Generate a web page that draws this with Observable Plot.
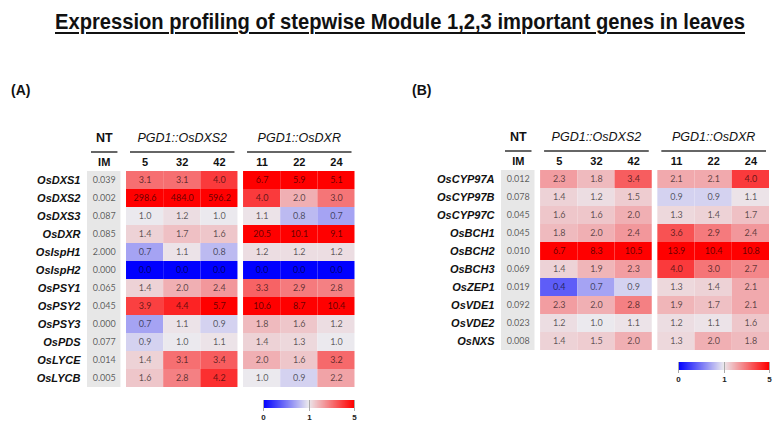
<!DOCTYPE html>
<html>
<head>
<meta charset="utf-8">
<script src="https://cdn.jsdelivr.net/npm/d3@7"></script>
<script src="https://cdn.jsdelivr.net/npm/@observablehq/plot@0.6"></script>
<style>
  body { margin: 0; background: #fff; }
  #wrap { position: relative; width: 775px; height: 427px; overflow: hidden; font-family: "Liberation Sans", Arial, sans-serif; }
  #title { position: absolute; left: 55px; top: 9px; display: inline-block; transform-origin: 0 0;
           font-family: "Liberation Sans Narrow", "Arial Narrow", "Liberation Sans", sans-serif;
           font-weight: bold; font-size: 22px; color: #111; text-decoration: underline; text-decoration-thickness: 2px; text-underline-offset: 3px; white-space: nowrap; }
  .tag { position: absolute; font-weight: bold; font-size: 14px; color: #111; }
  .panel { position: absolute; top: 70px; }
  .leg { position: absolute; }
  .leg line { stroke: #aaa; }
</style>
</head>
<body>
<div id="wrap">
  <span id="title">Expression profiling of stepwise Module 1,2,3 important genes in leaves</span>
  <div class="tag" style="left:11px;top:82px;">(A)</div>
  <div class="tag" style="left:412px;top:82px;">(B)</div>
  <div class="panel" id="panelA" style="left:0px;"></div>
  <div class="panel" id="panelB" style="left:390px;"></div>
</div>
<script>
// ---------- data ----------
const groupLabels = ["NT", "PGD1::OsDXS2", "PGD1::OsDXR"];
const colLabels = [["IM"], ["5", "32", "42"], ["11", "22", "24"]];

// Panel A
const genesA = ["OsDXS1", "OsDXS2", "OsDXS3", "OsDXR", "OsIspH1", "OsIspH2", "OsPSY1", "OsPSY2", "OsPSY3", "OsPDS", "OsLYCE", "OsLYCB"];
const imA = [0.039, 0.002, 0.087, 0.085, 2.000, 0.000, 0.065, 0.045, 0.000, 0.077, 0.014, 0.005];
const dxs2A = [
  [3.1, 3.1, 4.0], [298.6, 484.0, 596.2], [1.0, 1.2, 1.0], [1.4, 1.7, 1.6],
  [0.7, 1.1, 0.8], [0.0, 0.0, 0.0], [1.4, 2.0, 2.4], [3.9, 4.4, 5.7],
  [0.7, 1.1, 0.9], [0.9, 1.0, 1.1], [1.4, 3.1, 3.4], [1.6, 2.8, 4.2]
];
const dxrA = [
  [6.7, 5.9, 5.1], [4.0, 2.0, 3.0], [1.1, 0.8, 0.7], [20.5, 10.1, 9.1],
  [1.2, 1.2, 1.2], [0.0, 0.0, 0.0], [3.3, 2.9, 2.8], [10.6, 8.7, 10.4],
  [1.8, 1.6, 1.2], [1.4, 1.3, 1.0], [2.0, 1.6, 3.2], [1.0, 0.9, 2.2]
];

// Panel B
const genesB = ["OsCYP97A", "OsCYP97B", "OsCYP97C", "OsBCH1", "OsBCH2", "OsBCH3", "OsZEP1", "OsVDE1", "OsVDE2", "OsNXS"];
const imB = [0.012, 0.078, 0.045, 0.045, 0.010, 0.069, 0.019, 0.092, 0.023, 0.008];
const dxs2B = [
  [2.3, 1.8, 3.4], [1.4, 1.2, 1.5], [1.6, 1.6, 2.0], [1.8, 2.0, 2.4], [6.7, 8.3, 10.5],
  [1.4, 1.9, 2.3], [0.4, 0.7, 0.9], [2.3, 2.0, 2.8], [1.2, 1.0, 1.1], [1.4, 1.5, 2.0]
];
const dxrB = [
  [2.1, 2.1, 4.0], [0.9, 0.9, 1.1], [1.3, 1.4, 1.7], [3.6, 2.9, 2.4], [13.9, 10.4, 10.8],
  [4.0, 3.0, 2.7], [1.3, 1.4, 2.1], [1.9, 1.7, 2.1], [1.2, 1.1, 1.6], [1.3, 2.0, 1.8]
];

// color scale stops
const colorDomain = [0, 1, 5];
const colorRange = ["#0000ff", "#ebe9ee", "#ff0000"];

// ---------- title fit (condensed look) ----------
(function fitTitle() {
  const t = document.getElementById("title");
  const w = t.getBoundingClientRect().width;
  const target = 690;
  if (w > 0) t.style.transform = `scaleX(${target / w})`;
})();

// ---------- layout helpers ----------
function layoutColumns() {
  const cols = [], groups = [];
  let pos = 0;
  colLabels.forEach((labels, g) => {
    const w = g === 0 ? 0.9 : 1;
    const start = pos;
    labels.forEach((label, k) => { cols.push({g, k, label, x1: pos, x2: pos + w}); pos += w; });
    groups.push({g, label: groupLabels[g], x1: start, x2: pos});
    pos += 0.15;
  });
  return {cols, groups, end: pos - 0.15};
}

function makePanel({genes, im, dxs2, dxr, width, height, marginLeft, marginRight, marginBottom}) {
  const {cols, groups, end} = layoutColumns();
  const imCells = genes.map((gene, i) => ({gene, value: im[i], x1: cols[0].x1, x2: cols[0].x2}));
  const valCells = [];
  genes.forEach((gene, i) => {
    [dxs2[i], dxr[i]].forEach((vals, gi) => {
      vals.forEach((v, k) => {
        const c = cols.find(c => c.g === gi + 1 && c.k === k);
        valCells.push({gene, value: v, x1: c.x1, x2: c.x2});
      });
    });
  });
  const mid = d => (d.x1 + d.x2) / 2;
  const numFont = "Lato, 'Open Sans', sans-serif";
  return Plot.plot({
    width, height,
    marginLeft, marginRight, marginTop: 60.8, marginBottom,
    style: {fontFamily: "'Liberation Sans', Arial, sans-serif", background: "transparent", color: "#111"},
    x: {type: "linear", domain: [0, end], axis: null},
    y: {type: "band", domain: ["h1", "h2", ...genes], padding: 0, axis: null},
    color: {type: "linear", domain: colorDomain, range: colorRange, interpolate: "rgb", clamp: true},
    marks: [
      Plot.barX(imCells, {x1: "x1", x2: "x2", y: "gene", fill: "#e7e7e7"}),
      Plot.barX(valCells, {x1: "x1", x2: "x2", y: "gene", fill: "value"}),
      Plot.text(imCells, {x: mid, y: "gene", text: d => d.value.toFixed(3), fontFamily: numFont, fontSize: 9, fill: "#000", fillOpacity: 0.62}),
      Plot.text(valCells, {x: mid, y: "gene", text: d => d.value.toFixed(1), fontFamily: numFont, fontSize: 9, fill: "#000", fillOpacity: 0.62}),
      Plot.text(genes, {y: d => d, frameAnchor: "left", textAnchor: "end", dx: -7, fontStyle: "italic", fontWeight: "bold", fontSize: 11, fill: "#111"}),
      Plot.text(cols, {x: mid, y: () => "h2", text: "label", fontWeight: "bold", fontSize: 11, fill: "#111"}),
      Plot.text(groups.filter(d => d.g === 0), {x: mid, y: () => "h1", dy: -7, text: "label", fontWeight: "bold", fontSize: 12.5, fill: "#111"}),
      Plot.text(groups.filter(d => d.g > 0), {x: mid, y: () => "h1", dy: -7, text: "label", fontStyle: "italic", fontSize: 12.5, fill: "#111"}),
      Plot.ruleY(groups, {y: () => "h1", x1: "x1", x2: "x2", dy: 7.5, insetLeft: 4, insetRight: 3, stroke: "#333", strokeWidth: 1.5})
    ]
  });
}

const plotA = makePanel({genes: genesA, im: imA, dxs2: dxs2A, dxr: dxrA, width: 390, height: 357, marginLeft: 87, marginRight: 35.5, marginBottom: 36});
const plotB = makePanel({genes: genesB, im: imB, dxs2: dxs2B, dxr: dxrB, width: 385, height: 357, marginLeft: 111, marginRight: 6, marginBottom: 73});
document.getElementById("panelA").appendChild(plotA);
document.getElementById("panelB").appendChild(plotB);

function addLegend(plot, left, top) {
  const leg = plot.legend("color", {
    width: 101, height: 24, marginTop: 0, marginBottom: 16, marginLeft: 5, marginRight: 5,
    ticks: colorDomain, tickFormat: d => String(d), tickSize: 3, label: null,
    style: {fontFamily: "'Liberation Sans', Arial, sans-serif", fontSize: "8px", fontWeight: "bold", color: "#222", background: "transparent"}
  });
  const div = document.createElement("div");
  div.className = "leg";
  div.style.left = left + "px";
  div.style.top = top + "px";
  div.appendChild(leg);
  document.getElementById("wrap").appendChild(div);
}
addLegend(plotA, 258, 400);
addLegend(plotB, 673, 362);
</script>
</body>
</html>
